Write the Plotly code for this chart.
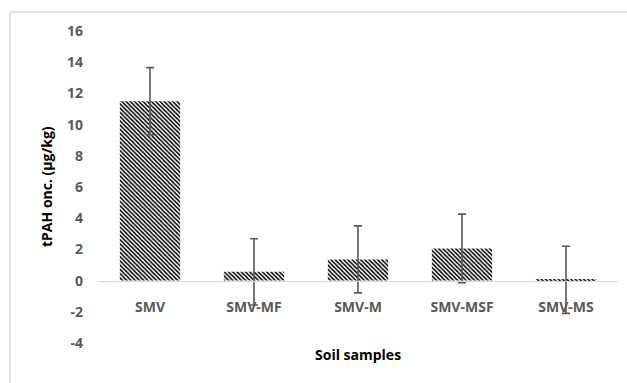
import plotly.graph_objects as go

# Mean total PAH concentration per soil sample, with standard deviation
samples = ["SMV", "SMV-MF", "SMV-M", "SMV-MSF", "SMV-MS"]
tpah_mean = [11.5, 0.56, 1.36, 2.06, 0.05]
tpah_sd = [2.15, 2.12, 2.15, 2.2, 2.15]
y_ticks = [-4, -2, 0, 2, 4, 6, 8, 10, 12, 14, 16]
y_tick_text = [str(v) for v in y_ticks]

W, H = 627, 383
L, R, T, B = 98, 9, 31, 40
plot_w = W - L - R
plot_h = H - T - B

FONT = "Open Sans"
TICK_GRAY = "#595959"
FRAME_GRAY = "#d9d9d9"

fig = go.Figure()
fig.add_trace(go.Bar(
    x=samples,
    y=tpah_mean,
    width=0.58,
    marker=dict(
        color="white",
        line=dict(width=0),
        pattern=dict(shape="\\", size=3, solidity=0.5,
                     fgcolor="black", bgcolor="white", fillmode="replace"),
    ),
    error_y=dict(type="data", array=tpah_sd, visible=True,
                 color=TICK_GRAY, thickness=1.6, width=4),
    showlegend=False,
))

y_min, y_max = -4, 16
fig.update_layout(
    width=W, height=H,
    margin=dict(l=L, r=R, t=T, b=B, pad=0),
    paper_bgcolor="white",
    plot_bgcolor="white",
    font=dict(family=FONT),
    bargap=0.42,
    xaxis=dict(
        anchor="free",
        position=(0 - y_min) / (y_max - y_min),
        range=[-0.5, 4.5],
        showline=True, linecolor=FRAME_GRAY, linewidth=1,
        showgrid=False, zeroline=False, ticks="",
        ticklabelstandoff=14,
        tickfont=dict(family=FONT, size=14, color=TICK_GRAY, weight="bold"),
    ),
    yaxis=dict(
        range=[y_min, y_max],
        tickvals=y_ticks,
        ticktext=y_tick_text,
        showline=False, showgrid=False, zeroline=False, ticks="",
        ticklabelstandoff=14,
        tickfont=dict(family=FONT, size=14, color=TICK_GRAY, weight="bold"),
    ),
)

# Axis titles
fig.add_annotation(
    text="<b>tPAH onc. (μg/kg)</b>",
    xref="paper", yref="paper",
    x=(46 - L) / plot_w, y=0.5,
    textangle=-90, showarrow=False,
    xanchor="center", yanchor="middle",
    font=dict(family=FONT, size=14, color="black"),
)
fig.add_annotation(
    text="<b>Soil samples</b>",
    xref="paper", yref="paper",
    x=(358 - L) / plot_w, y=(H - B - 354) / plot_h,
    showarrow=False, xanchor="center", yanchor="middle",
    font=dict(family=FONT, size=14, color="black"),
)

# Outer chart frame
fig.add_shape(
    type="rect", xref="paper", yref="paper",
    x0=(10 - L) / plot_w, x1=(W + 10 - L) / plot_w,
    y0=(H - B - (H + 10)) / plot_h, y1=(H - B - 12) / plot_h,
    line=dict(color=FRAME_GRAY, width=1.5),
    fillcolor="rgba(0,0,0,0)", layer="below",
)

fig.write_html("out.html")
